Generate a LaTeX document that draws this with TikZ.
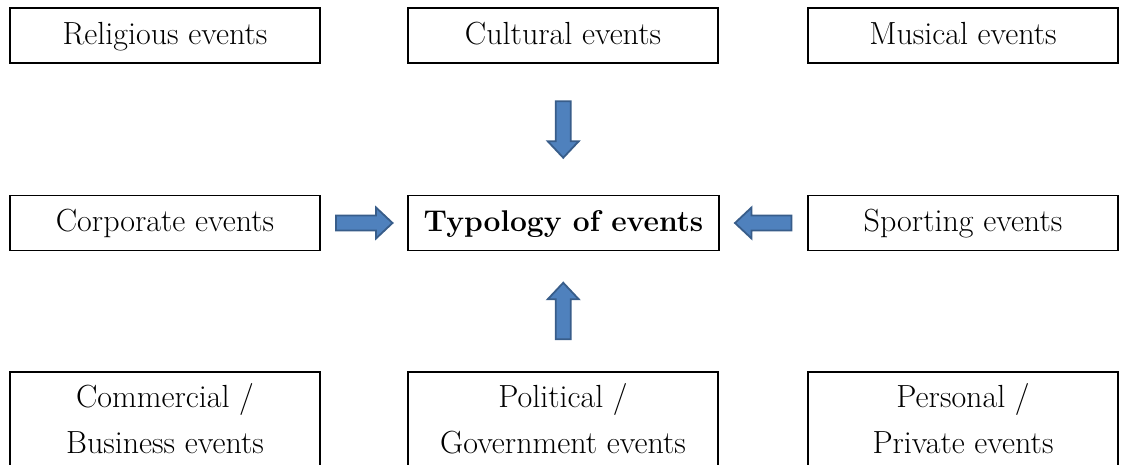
\documentclass[tikz,border=0pt]{standalone}
\usetikzlibrary{calc}
\definecolor{arrfill}{RGB}{79,129,189}
\definecolor{arrline}{RGB}{56,93,138}
\tikzset{
  basebox/.style={draw=black,line width=0.8pt,minimum width=155pt,inner sep=0pt,align=center,font=\fontsize{16}{23}\selectfont},
  evbox/.style={basebox,minimum height=27.5pt,text height=10.5pt,text depth=1.5pt},
  tallbox/.style={basebox,minimum height=47pt},
  blockarr/.style={fill=arrfill,draw=arrline,line width=0.9pt,line join=miter}
}
\begin{document}
\begin{tikzpicture}[x=0.5pt,y=-0.5pt]
\clip (0,0) rectangle (1121,465);
\fill[white] (0,0) rectangle (1121,465);
% top row
\node[evbox] (relig) at (165,35.5) {Religious events};
\node[evbox] (cult) at (563,35.5) {Cultural events};
\node[evbox] (music) at (963,35.5) {Musical events};
% middle row
\node[evbox] (corp) at (165,223) {Corporate events};
\node[evbox,minimum width=155.5pt,font=\fontsize{15}{23}\selectfont\bfseries] (typo) at (563.5,223) {Typology of events};
\node[evbox] (sport) at (963,223) {Sporting events};
% bottom row (cut off at the page edge)
\node[tallbox] (comm) at (165,419) {Commercial /\\Business events};
\node[tallbox] (pol) at (563,419) {Political /\\Government events};
\node[tallbox] (pers) at (963,419) {Personal /\\Private events};
% block arrows into the centre box
\foreach \a/\b/\r in {cult.south/typo.north/-90,corp.east/typo.west/0,sport.west/typo.east/180,pol.north/typo.south/90}{
  \draw[blockarr,shift={($(\a)!0.5!(\b)$)},rotate=\r]
    (-28,-7.5) -- (12,-7.5) -- (12,-15.5) -- (28.5,0) -- (12,15.5) -- (12,7.5) -- (-28,7.5) -- cycle;}
\end{tikzpicture}
\end{document}
